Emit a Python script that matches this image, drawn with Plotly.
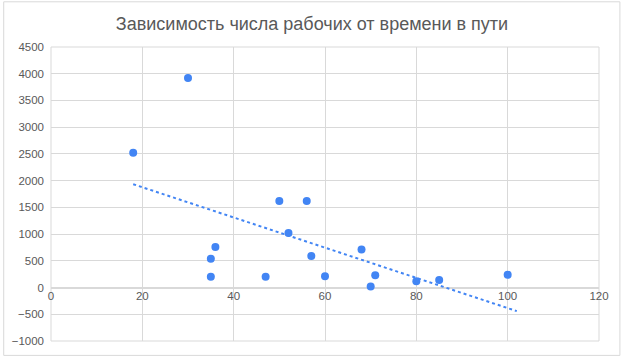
import numpy as np
import plotly.graph_objects as go

# Data
travel_time = [18, 30, 35, 35, 36, 47, 50, 52, 56, 57, 60, 68, 70, 71, 80, 85, 100]
workers = [2520, 3920, 200, 540, 760, 200, 1620, 1020, 1620, 590, 210, 710, 20, 230, 120, 140, 240]
title_text = "Зависимость числа рабочих от времени в пути"
x_ticks = [0, 20, 40, 60, 80, 100, 120]
y_ticks = [-1000, -500, 0, 500, 1000, 1500, 2000, 2500, 3000, 3500, 4000, 4500]
trend_forward = 2

slope, intercept = np.polyfit(travel_time, workers, 1)
tx = [min(travel_time), max(travel_time) + trend_forward]
ty = [slope * v + intercept for v in tx]

blue = "#4285F4"
grid = "#D9D9D9"
txt = "#595959"

fig = go.Figure()
fig.add_trace(go.Scatter(x=tx, y=ty, mode="lines",
                         line=dict(color=blue, width=2, dash="dot"),
                         hoverinfo="skip"))
fig.add_trace(go.Scatter(x=travel_time, y=workers, mode="markers",
                         marker=dict(color=blue, size=8)))

W, H = 624, 359
ml, mr, mt, mb = 49, 24.5, 47, 16
pw = W - ml - mr
ph = H - mt - mb

fig.update_layout(
    width=W, height=H,
    margin=dict(l=ml, r=mr, t=mt, b=mb),
    paper_bgcolor="white", plot_bgcolor="white",
    showlegend=False,
    font=dict(family="Liberation Sans, Arial, sans-serif", color=txt, size=11.5),
    title=dict(text=title_text, x=0.5, xanchor="center", y=1 - 24 / H, yanchor="middle",
               font=dict(size=18, color=txt)),
    xaxis=dict(range=[0, 120], tickvals=x_ticks, showgrid=True, gridcolor=grid, gridwidth=1,
               zeroline=False, showline=False, anchor="free",
               position=1000 / 5500, ticks="", tickfont=dict(size=11.5, color=txt)),
    yaxis=dict(range=[-1000, 4500], tickvals=y_ticks, showgrid=True, gridcolor=grid, gridwidth=1,
               zeroline=True, zerolinecolor=grid, zerolinewidth=2, showline=False, ticks="",
               ticklabelstandoff=6, tickfont=dict(size=11.5, color=txt)),
    shapes=[
        dict(type="rect", xref="paper", yref="paper",
             x0=(1.5 - ml) / pw, x1=(620.5 - ml) / pw,
             y0=(mt + ph - 357.5) / ph, y1=(mt + ph - 1.5) / ph,
             line=dict(color=grid, width=1), fillcolor="rgba(0,0,0,0)", layer="below"),
        dict(type="rect", xref="paper", yref="paper", x0=0, x1=1, y0=0, y1=1,
             line=dict(color=grid, width=1), fillcolor="rgba(0,0,0,0)", layer="below"),
    ],
)

fig.write_html("out.html")
